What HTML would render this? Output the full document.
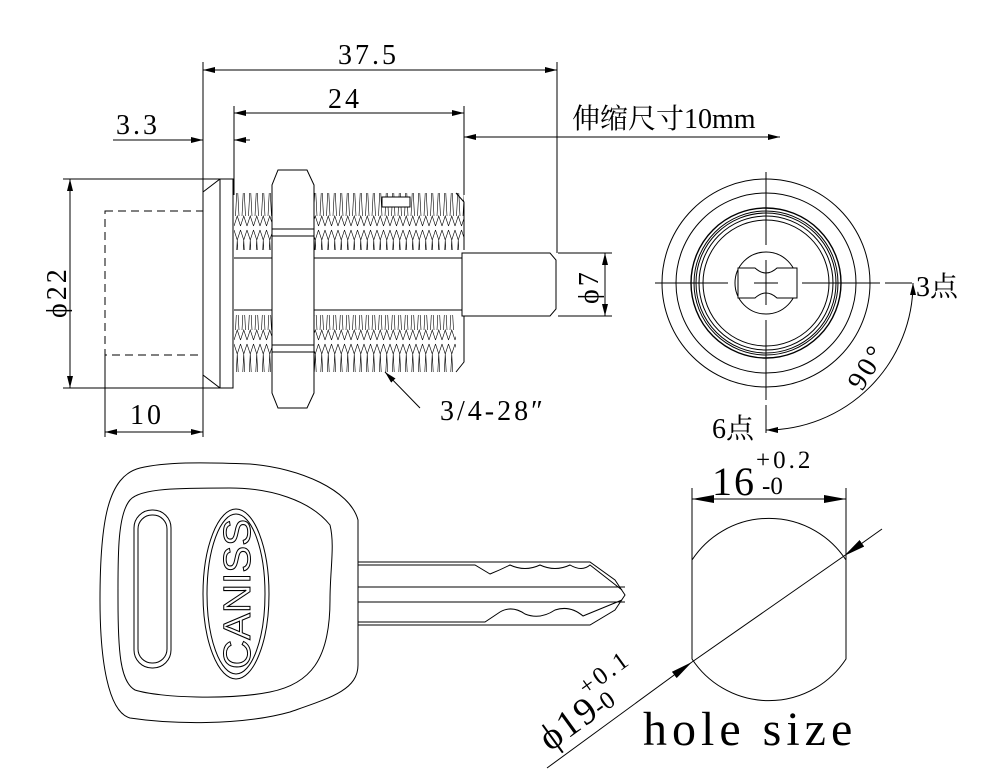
<!DOCTYPE html>
<html><head><meta charset="utf-8"><style>
body{margin:0;background:#fff}
svg{display:block}
text{font-family:"Liberation Serif","Noto Serif CJK SC",serif}
</style></head><body>
<svg width="994" height="775" viewBox="0 0 994 775" xmlns="http://www.w3.org/2000/svg">
<defs>
<marker id="a" viewBox="0 0 12 6" refX="12" refY="3" markerWidth="12" markerHeight="6" orient="auto-start-reverse" markerUnits="userSpaceOnUse"><path d="M0,0L12,3L0,6z" fill="#000"/></marker>
<marker id="b" viewBox="0 0 22 8" refX="22" refY="4" markerWidth="22" markerHeight="8" orient="auto-start-reverse" markerUnits="userSpaceOnUse"><path d="M0,0L22,4L0,8z" fill="#000"/></marker>
<pattern id="th" width="6.5" height="57" patternUnits="userSpaceOnUse">
<path d="M0,2L3.25,12L6.5,2M0,55L3.25,45L6.5,55M3.25,12L1.5,45M3.25,12L5,45" fill="none" stroke="#000" stroke-width="0.6"/>
</pattern>
</defs>
<g fill="none" stroke="#000" stroke-width="1">
<line x1="203" y1="62" x2="203" y2="437"/>
<line x1="557" y1="62" x2="557" y2="253"/>
<line x1="203" y1="70" x2="557" y2="70" marker-start="url(#a)" marker-end="url(#a)"/>
<line x1="234" y1="106" x2="234" y2="195"/>
<line x1="464" y1="106" x2="464" y2="195"/>
<line x1="234" y1="113" x2="464" y2="113" marker-start="url(#a)" marker-end="url(#a)"/>
<line x1="113" y1="140" x2="203" y2="140" marker-end="url(#a)"/>
<line x1="234" y1="140" x2="250" y2="140" marker-start="url(#a)"/>
<line x1="464" y1="137" x2="780" y2="137" marker-start="url(#a)" marker-end="url(#a)"/>
<line x1="63" y1="179" x2="222" y2="179"/>
<line x1="63" y1="388" x2="222" y2="388"/>
<line x1="70" y1="179" x2="70" y2="388" marker-start="url(#a)" marker-end="url(#a)"/>
<line x1="105" y1="355" x2="105" y2="437"/>
<line x1="105" y1="432" x2="203" y2="432" marker-start="url(#a)" marker-end="url(#a)"/>
<rect x="105" y="211" width="98" height="144" stroke-dasharray="8,5"/>
<path d="M203,192L220,179L233,179L233,388L220,388L203,375Z"/>
<line x1="220" y1="179" x2="220" y2="388"/>
<rect x="234" y="193" width="230" height="57" fill="url(#th)" stroke="none"/>
<rect x="234" y="315" width="222" height="57" fill="url(#th)" stroke="none"/>
<path d="M456,193L464,202L464,250M456,372L464,362L464,315"/>
<rect x="382" y="197" width="28" height="10" fill="#fff" stroke="#000"/>
<line x1="234" y1="258" x2="464" y2="258"/>
<line x1="234" y1="310" x2="464" y2="310"/>
<path d="M278,170L307,170L314,185L314,393L307,408L278,408L272,393L272,185Z" fill="#fff"/>
<line x1="272" y1="229" x2="314" y2="229"/><line x1="272" y1="236" x2="314" y2="236"/>
<line x1="272" y1="345" x2="314" y2="345"/><line x1="272" y1="352" x2="314" y2="352"/>
<path d="M462,253L550,253L556,260L556,309L550,316L462,316Z" fill="#fff"/>
<line x1="558" y1="253" x2="612" y2="253"/>
<line x1="558" y1="316" x2="612" y2="316"/>
<line x1="605" y1="253" x2="605" y2="316" marker-start="url(#a)" marker-end="url(#a)"/>
<line x1="420" y1="408" x2="385" y2="372" marker-end="url(#a)"/>
<circle cx="766" cy="283" r="104"/>
<circle cx="766" cy="283" r="90"/>
<circle cx="766" cy="283" r="75" stroke-width="1.4"/>
<circle cx="766" cy="283" r="72"/>
<circle cx="766" cy="283" r="70"/>
<circle cx="766" cy="283" r="67"/>
<circle cx="766" cy="283" r="63"/>
<circle cx="766" cy="283" r="31"/>
<path d="M738,268L755,268Q766,278 777,268L797,268L797,298L777,298Q766,288 755,298L738,298Z" fill="#fff"/>
<path d="M766,172V245M766,260V305M766,320V400M766,405V433M655,283H728M754,283H778M802,283H880M885,283H912"/>
<path d="M913,283A147,147 0 0 1 766,430" marker-start="url(#a)" marker-end="url(#a)"/>
<path d="M358,520C350,490 300,468 250,464C200,462 165,462 140,468C108,476 100,520 100,600C100,660 108,712 130,718C170,724 240,726 290,712C330,698 358,690 358,665Z"/>
<path d="M330,525C310,500 270,488 230,488C180,488 140,488 130,500C117,515 118,560 118,600C118,650 120,682 135,690C160,698 230,700 270,692C310,684 330,660 330,600C330,570 335,545 330,525Z"/>
<rect x="134" y="510" width="37" height="158" rx="18"/>
<rect x="138" y="515" width="29" height="148" rx="14"/>
<ellipse cx="236" cy="594" rx="33" ry="85"/>
<ellipse cx="236" cy="594" rx="29" ry="80"/>
<line x1="358" y1="520" x2="358" y2="665"/>
<path d="M358,562L590,562L615,580L625,595L615,610L590,625L358,625"/>
<path d="M358,565L475,565L490,574Q500,570 510,565Q525,572 540,565Q555,572 570,565Q582,572 590,565L622,590"/>
<path d="M358,587L625,587M358,602L625,602"/>
<path d="M358,622L485,622L500,612Q512,605 525,614Q540,620 555,610Q570,605 583,616L622,600"/>
<line x1="692" y1="488" x2="692" y2="560"/>
<line x1="846" y1="488" x2="846" y2="560"/>
<line x1="692" y1="499" x2="846" y2="499" marker-start="url(#b)" marker-end="url(#b)"/>
<path d="M692,560A92,92 0 0 1 846,560L846,659A92,92 0 0 1 692,659Z"/>
<line x1="547" y1="768" x2="692" y2="662" marker-end="url(#b)"/>
<line x1="692" y1="662" x2="844" y2="556"/>
<line x1="882" y1="529" x2="844" y2="556" marker-end="url(#b)"/>
</g>
<g font-size="28" letter-spacing="3" fill="#000">
<text x="338" y="64">37.5</text>
<text x="328" y="108">24</text>
<text x="116" y="134">3.3</text>
<text x="572" y="128" letter-spacing="0">伸缩尺寸10mm</text>
<text x="130" y="424">10</text>
<text x="440" y="420">3/4-28″</text>
<text transform="translate(66,318) rotate(-90)">ϕ22</text>
<text transform="translate(598,304) rotate(-90)">ϕ7</text>
<text x="916" y="296" letter-spacing="0">3点</text>
<text x="712" y="438" letter-spacing="0">6点</text>
<text transform="translate(862,392) rotate(-58)">90°</text>
</g>
<text transform="translate(250,594) rotate(-90)" text-anchor="middle" font-size="38" textLength="150" lengthAdjust="spacingAndGlyphs" style="font-family:'Liberation Sans',sans-serif;fill:#fff;stroke:#000;stroke-width:1">CANISS</text>
<text x="712" y="495" font-size="40" fill="#000" letter-spacing="2">16</text>
<text x="756" y="468" font-size="25" fill="#000" letter-spacing="3">+0.2</text>
<text x="762" y="494" font-size="25" fill="#000">-0</text>
<g transform="translate(550,752) rotate(-36)" fill="#000">
<text x="0" y="0" font-size="38" letter-spacing="2">ϕ19</text>
<text x="62" y="-24" font-size="25" letter-spacing="3">+0.1</text>
<text x="62" y="0" font-size="25">-0</text>
</g>
<text x="643" y="745" font-size="48" fill="#000" letter-spacing="5">hole size</text>
</svg>
</body></html>
